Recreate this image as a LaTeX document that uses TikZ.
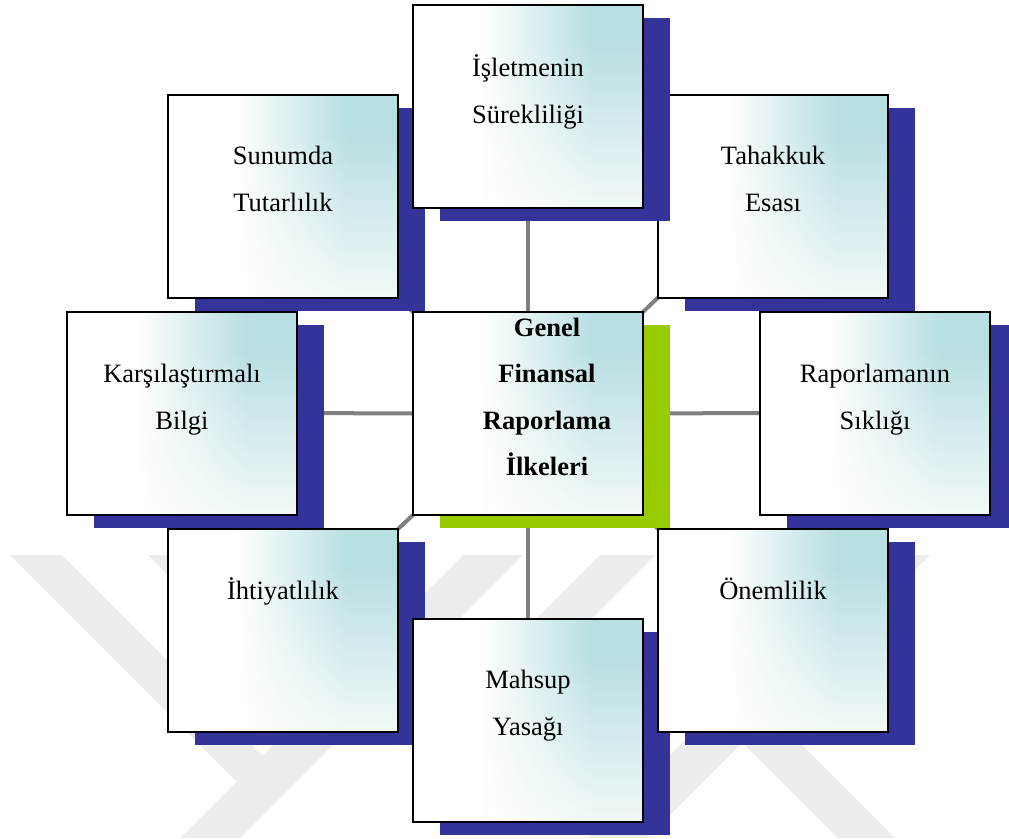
\documentclass[tikz,border=0pt]{standalone}
\usepackage{fontspec}
\setmainfont{Liberation Serif}
\usetikzlibrary{shadows,fadings,backgrounds}

\definecolor{shadownavy}{HTML}{333399}
\definecolor{shadowgreen}{HTML}{99CC00}
\definecolor{boxteal}{HTML}{B8DFE2}
\definecolor{linkgray}{HTML}{808080}
\definecolor{markgray}{HTML}{EDEDED}

% left third stays white, the right part turns teal
\pgfdeclarehorizontalshading{cardtint}{100bp}{color(0bp)=(white); color(25bp)=(white);
  color(40bp)=(white); color(64bp)=(boxteal); color(100bp)=(boxteal)}
% the tint holds along the top and is gone near the bottom edge
\pgfdeclareverticalshading{tintmask}{100bp}{color(0bp)=(transparent!100); color(25bp)=(transparent!100);
  color(33bp)=(transparent!100); color(58bp)=(transparent!0); color(100bp)=(transparent!0)}
\begin{tikzfadingfrompicture}[name=tintfade]
  \shade[shading=tintmask] (-50bp,-50bp) rectangle (50bp,50bp);
\end{tikzfadingfrompicture}

\newcommand{\cardtext}[1]{\begin{tabular}[t]{@{}c@{}}#1\end{tabular}}

\tikzset{
  cardbase/.style={draw=black, line width=2pt, minimum width=230pt, minimum height=203pt,
    inner sep=0pt, outer sep=0pt},
  cardfill/.style={preaction={fill=white},
    preaction={shading=cardtint, path fading=tintfade}},
  card/.style={cardbase,
    drop shadow={shadow xshift=27pt, shadow yshift=-13pt, fill=shadownavy, opacity=1},
    cardfill},
  maincard/.style={cardbase,
    drop shadow={shadow xshift=27pt, shadow yshift=-13pt, fill=shadowgreen, opacity=1},
    cardfill},
  lbl/.style={anchor=base, inner sep=0pt, font=\fontsize{26.5}{47}\selectfont},
  mainlbl/.style={anchor=base, inner sep=0pt, font=\fontsize{26.5}{46.5}\selectfont\bfseries},
  link/.style={draw=linkgray, line width=4pt},
  pagemark/.style={fill=markgray, draw=none}
}

\begin{document}
\begin{tikzpicture}[x=1pt, y=-1pt]
\useasboundingbox (0,0) rectangle (1009,838);
\clip (0,0) rectangle (1009,838);

% upper ring
\node[card] (sunum) at (283,196) {};
\node[lbl] (sunumT) at (283,164) {\cardtext{Sunumda\\Tutarlılık}};
\node[card] (tahak) at (773,196) {};
\node[lbl] (tahakT) at (773,164) {\cardtext{Tahakkuk\\Esası}};
\node[card] (islet) at (528,106) {};
\node[lbl] (isletT) at (528,76) {\cardtext{İşletmenin\\Sürekliliği}};

% middle row
\node[card] (karsi) at (182,413) {};
\node[lbl] (karsiT) at (182,382) {\cardtext{Karşılaştırmalı\\Bilgi}};
\node[maincard] (genel) at (528,413.5) {};
\node[mainlbl] (genelT) at (547,336) {\cardtext{Genel\\Finansal\\Raporlama\\İlkeleri}};
\node[card] (rapor) at (875,413) {};
\node[lbl] (raporT) at (875,382) {\cardtext{Raporlamanın\\Sıklığı}};

% lower ring
\node[card] (ihti) at (283,630.5) {};
\node[lbl] (ihtiT) at (283,599) {İhtiyatlılık};
\node[card] (mahsup) at (528,720.5) {};
\node[lbl] (mahsupT) at (528,688) {\cardtext{Mahsup\\Yasağı}};
\node[card] (onem) at (773,630.5) {};
\node[lbl] (onemT) at (773,599) {Önemlilik};

\begin{pgfonlayer}{background}
  \fill[white] (0,0) rectangle (1009,838);
  % faint stripes of the page mark
  \path[pagemark] (10,555) -- (62,555) -- (262.5,755.5) -- (236.5,781.5) -- cycle;
  \path[pagemark] (148,555) -- (200,555) -- (331.5,686.5) -- (305.5,712.5) -- cycle;
  \path[pagemark] (180,838) -- (240,838) -- (523,555) -- (463,555) -- cycle;
  \path[pagemark] (600,555) -- (655,555) -- (510,700) -- (455,700) -- cycle;
  \path[pagemark] (870,555) -- (930,555) -- (647,838) -- (587,838) -- cycle;
  \path[pagemark] (700,700) -- (757,700) -- (895,838) -- (838,838) -- cycle;
  % connectors from the hub to every principle
  \draw[link] (genel.north) -- (islet.south);
  \draw[link] (genel.south) -- (mahsup.north);
  \draw[link] (genel.west) -- (karsi.east);
  \draw[link] (genel.east) -- (rapor.west);
  \draw[link] (genel.north west) -- (sunum.south east);
  \draw[link] (genel.north east) -- (tahak.south west);
  \draw[link] (genel.south west) -- (ihti.north east);
  \draw[link] (genel.south east) -- (onem.north west);
\end{pgfonlayer}
\end{tikzpicture}
\end{document}
